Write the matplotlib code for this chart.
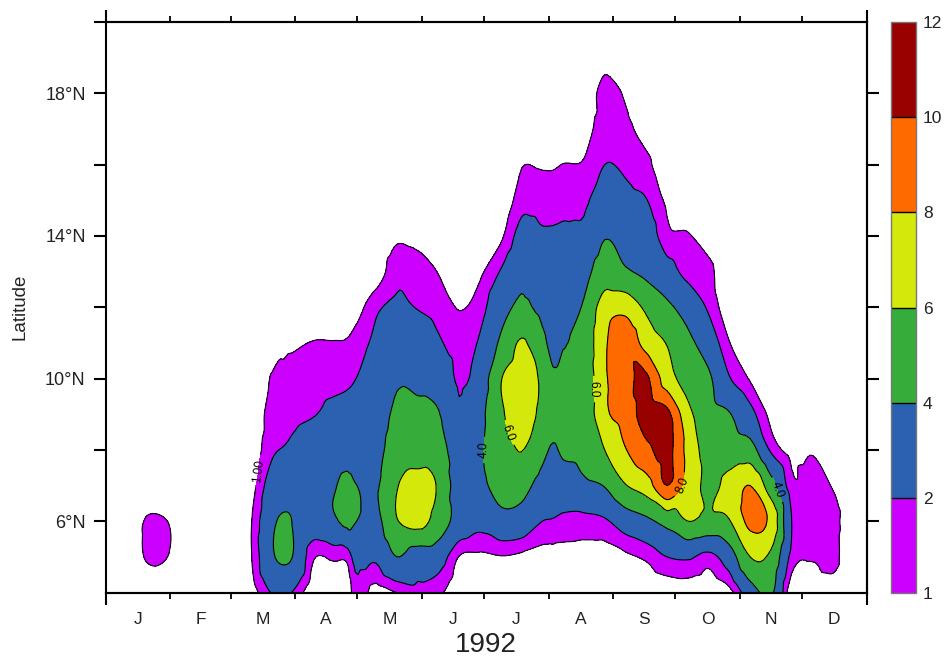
import numpy as np
import matplotlib
matplotlib.use("Agg")
import matplotlib.pyplot as plt
import matplotlib.tri as mtri
import matplotlib as mpl
from matplotlib.colors import ListedColormap, BoundaryNorm

# ---------------- data ----------------
# x nodes: day of year 1992, y nodes: latitude (deg N)
days = [0, 10, 20, 30, 40, 50, 60, 70, 80, 86, 90, 100, 110, 116, 120, 130, 140,
        150, 160, 170, 180, 190, 200, 210, 215, 220, 230, 240, 250, 260, 270,
        280, 290, 300, 310, 320, 330, 340, 350, 360, 370]
lats = list(range(4, 21))

# one profile per day node, values from 4N upward (missing = 0)
profiles = [
    [],
    [],
    [0, 1.15, 1.15],
    [0, 0.98, 0.98],
    [],
    [],
    [],
    [0.5, 0.97, 0.97, 0.6, 0.3, 0.1],
    [2.1, 3.8, 3.7, 2.8, 1.8, 1.5, 1.1, 0.3],
    [2.4, 4.3, 4.2, 3.2, 2.1, 1.6, 1.2, 0.8],
    [1.9, 3.95, 3.95, 3.0, 2.3, 1.7, 1.3, 0.85],
    [0.2, 1.1, 3.0, 3.3, 2.8, 1.95, 1.6, 1.05, 0.2],
    [0.3, 1.2, 3.8, 3.9, 3.0, 2.3, 1.7, 1.05, 0.3],
    [0.2, 1.3, 4.4, 4.4, 3.2, 2.4, 1.8, 1.1, 0.4],
    [1.6, 2.5, 4.05, 4.05, 3.0, 2.5, 1.98, 1.4, 0.5],
    [0.5, 2.3, 3.5, 3.8, 3.5, 3.2, 2.8, 2.3, 1.8, 0.3],
    [1.0, 4.0, 5.9, 5.9, 4.8, 4.3, 3.8, 3.0, 2.15, 1.75, 0.8],
    [1.5, 3.0, 6.6, 6.7, 5.0, 4.4, 3.6, 2.8, 1.95, 1.6, 0.6],
    [1.2, 2.8, 5.2, 5.8, 4.9, 4.1, 3.3, 2.2, 1.6, 0.95, 0.2],
    [0.2, 0.95, 3.2, 3.0, 2.9, 2.2, 1.8, 1.4, 0.95, 0.2],
    [0.2, 0.8, 2.5, 3.6, 3.8, 3.5, 2.8, 2.2, 1.5, 0.8],
    [0.1, 0.95, 3.4, 4.6, 5.0, 5.7, 5.9, 4.3, 3.3, 2.1, 0.8],
    [0.1, 0.8, 3.2, 4.6, 6.05, 6.8, 6.9, 6.2, 4.3, 3.6, 2.5, 1.6, 0.95, 0.2],
    [0.1, 0.6, 2.0, 3.3, 4.5, 5.5, 5.6, 4.4, 3.5, 2.9, 2.2, 1.5, 0.9, 0.2],
    [0.1, 0.6, 1.9, 3.0, 3.8, 4.6, 4.2, 3.6, 3.2, 2.7, 2.2, 1.5, 0.9, 0.2],
    [0.1, 0.6, 1.7, 3.0, 4.3, 4.8, 4.6, 3.9, 3.4, 2.9, 2.3, 1.6, 1.02, 0.3],
    [0.1, 0.6, 1.6, 3.6, 4.6, 4.6, 4.6, 4.6, 4.2, 3.4, 2.4, 1.7, 1.1, 0.5],
    [0.1, 0.6, 1.8, 4.1, 6.0, 7.6, 7.7, 7.7, 7.0, 5.0, 3.9, 3.0, 2.0, 1.6, 1.5, 0.6],
    [0.1, 0.8, 2.9, 5.9, 7.9, 8.8, 9.3, 9.3, 7.4, 4.2, 3.3, 2.4, 1.8, 1.3, 0.85],
    [0.1, 1.2, 3.6, 7.0, 9.5, 10.8, 10.3, 7.2, 5.6, 3.6, 2.9, 2.05, 1.3, 0.5],
    [0.2, 2.0, 4.6, 10.0, 10.6, 10.5, 6.9, 5.9, 4.4, 2.6, 1.3, 0.8, 0.1],
    [0.3, 2.2, 6.0, 7.2, 7.4, 6.6, 5.2, 4.5, 3.2, 1.6, 1.1, 0.3],
    [0.1, 1.6, 5.5, 5.6, 5.2, 4.8, 4.3, 3.0, 1.8, 1.3, 0.5],
    [0.6, 3.0, 5.9, 6.6, 5.0, 4.1, 2.1, 1.05, 0.3],
    [3.0, 6.0, 8.5, 8.0, 4.8, 2.5, 0.9],
    [4.3, 5.6, 7.5, 4.8, 1.8, 0.7],
    [0.3, 1.6, 2.0, 1.3, 0.6],
    [0.3, 1.1, 1.6, 1.5, 0.9],
    [0.5, 1.3, 1.4, 0.9],
    [],
    [],
]

levels = [1, 2, 4, 6, 8, 10, 12]
colors = ['#cc00ff', '#2c60b0', '#36ad3a', '#d4e80c', '#ff6a00', '#990000']
month_starts = [0, 31, 60, 91, 121, 152, 182, 213, 244, 274, 305, 335, 366]
month_names = ['J', 'F', 'M', 'A', 'M', 'J', 'J', 'A', 'S', 'O', 'N', 'D']
year_ends = [0, 366]
lat_ticks = [6, 8, 10, 12, 14, 16, 18, 20]
lat_labels = ['6°N', '', '10°N', '', '14°N', '', '18°N', '']
label_spots = {1: [(74.2, 7.4)], 4: [(181.6, 8.0), (321.2, 6.85)],
               6: [(194.6, 8.5), (236.5, 9.7)], 8: [(277.9, 7.0)]}
label_fmt = {1: '1.00', 2: '2.0', 4: '4.0', 6: '6.0', 8: '8.0', 10: '10.0'}

# ---------------- grid ----------------
Z = np.zeros((len(lats), len(days)))
for j, p in enumerate(profiles):
    Z[:len(p), j] = p
X, Y = np.meshgrid(np.array(days, float), np.array(lats, float))

# triangulate in (roughly) pixel-isotropic space, refine smoothly
sx, sy = 760.0 / 366.0, 35.75
tri = mtri.Triangulation(X.ravel() * sx, (Y.ravel() - 4) * sy)
interp = mtri.CubicTriInterpolator(tri, Z.ravel(), kind='geom')
refiner = mtri.UniformTriRefiner(tri)
tri_r, z_r = refiner.refine_field(Z.ravel(), triinterpolator=interp, subdiv=3)
tri_d = mtri.Triangulation(tri_r.x / sx, tri_r.y / sy + 4, triangles=tri_r.triangles)

# ---------------- figure ----------------
plt.rcParams['font.family'] = ['Liberation Sans', 'DejaVu Sans']
fig = plt.figure(figsize=(9.44, 6.57), dpi=100)
ax = fig.add_axes([106 / 944, 1 - 592.5 / 657, 760.5 / 944, 570.5 / 657])

ax.tricontourf(tri_d, z_r, levels=levels, colors=colors)
ax.set_xlim(0, 366)
ax.set_ylim(4, 20)

line_sets = {}
for lev in levels[:-1]:
    line_sets[lev] = ax.tricontour(tri_d, z_r, levels=[lev], colors='k', linewidths=0.8)
for lev, spots in label_spots.items():
    ax.clabel(line_sets[lev], manual=spots, fmt=label_fmt, fontsize=8.5, inline=True)

# axes decoration
for s in ax.spines.values():
    s.set_linewidth(1.5)
ax.set_xticks(month_starts)
ax.set_xticklabels([])
mids = [(month_starts[i] + month_starts[i + 1]) / 2 for i in range(12)]
ax.set_xticks(mids, minor=True)
ax.set_xticklabels(month_names, minor=True, fontsize=12.5, color='#222222')
ax.tick_params(axis='x', which='minor', length=0, pad=14)
ax.tick_params(axis='x', which='major', direction='out', length=4.0, width=1.3,
               top=True, bottom=True)
for loc in ('top', 'bottom'):
    sx_ax = ax.secondary_xaxis(loc)
    sx_ax.set_xticks(year_ends)
    sx_ax.set_xticklabels([])
    sx_ax.tick_params(direction='out', length=8.6, width=1.5)
    sx_ax.spines[loc].set_linewidth(1.5)

ax.set_yticks(lat_ticks)
ax.set_yticklabels(lat_labels, fontsize=13, color='#222222')
ax.tick_params(axis='y', which='major', direction='out', length=8.6, width=1.5,
               left=True, right=False, pad=6)
sec = ax.secondary_yaxis('right')
sec.set_yticks(lat_ticks[:-1])
sec.set_yticklabels([])
sec.tick_params(direction='out', length=8.6, width=1.5)
sec.spines['right'].set_linewidth(1.5)

ax.set_xlabel('1992', fontsize=20, color='#222222', labelpad=4)
ax.set_ylabel('Latitude', fontsize=13.5, color='#222222', labelpad=12)

# colorbar
cax = fig.add_axes([890.7 / 944, 1 - 593 / 657, 25.3 / 944, 571 / 657])
sm = mpl.cm.ScalarMappable(norm=BoundaryNorm(levels, len(colors)), cmap=ListedColormap(colors))
cb = fig.colorbar(sm, cax=cax, boundaries=levels, ticks=levels, spacing='uniform',
                  drawedges=True)
cb.outline.set_edgecolor('#777777')
cb.outline.set_linewidth(1.0)
cb.dividers.set_color('k')
cb.dividers.set_linewidth(1.0)
cax.tick_params(length=0, labelsize=12.5, pad=5, labelcolor='#222222')

fig.savefig('out.png', dpi=100, facecolor='white')
